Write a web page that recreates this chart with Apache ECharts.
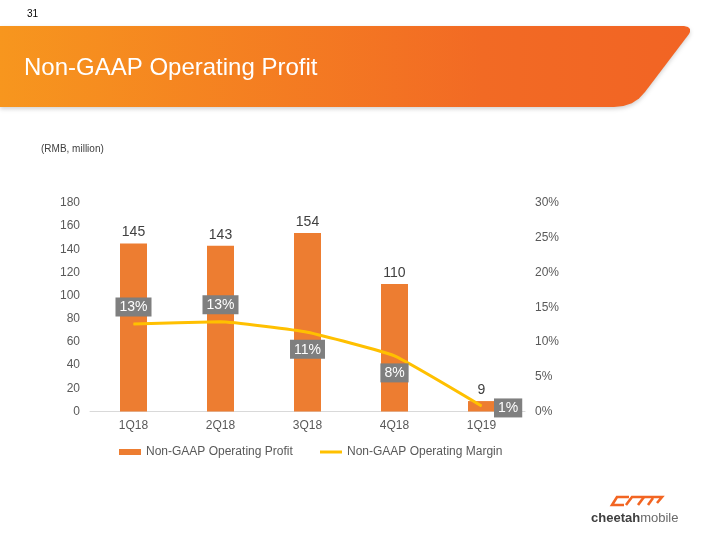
<!DOCTYPE html>
<html>
<head>
<meta charset="utf-8">
<script src="https://cdn.jsdelivr.net/npm/echarts@6/dist/echarts.min.js"></script>
<style>
html,body{margin:0;padding:0;background:#fff;}
#main{width:720px;height:540px;}
</style>
</head>
<body>
<div id="main"></div>
<script>
var categories = ['1Q18', '2Q18', '3Q18', '4Q18', '1Q19'];
var profitValues = [145, 143, 154, 110, 9];
var marginValues = [12.6, 12.9, 11.4, 8.0, 0.8];
var marginLabelPositions = ['top', 'top', 'bottom', 'bottom', 'right'];
var profitName = 'Non-GAAP Operating Profit';
var marginName = 'Non-GAAP Operating Margin';
var FONT = '"Liberation Sans", Arial, sans-serif';

var chart = echarts.init(document.getElementById('main'), null, {renderer: 'canvas'});

var marginData = marginValues.map(function (v, i) {
  var pos = marginLabelPositions[i];
  return {
    value: v,
    label: {
      position: pos,
      distance: pos === 'right' ? 12 : 7,
      offset: pos === 'right' ? [0, 2] : [0, 0]
    }
  };
});

var bandPoints = [
  [0, 26], [684, 26], [688, 27], [690, 29], [690, 32], [689, 34],
  [645, 92], [639, 98.6], [631.8, 103.3], [623.4, 106.1], [614, 107], [0, 107]
];

var option = {
  backgroundColor: '#ffffff',
  textStyle: {fontFamily: FONT},
  animation: false,
  graphic: [
    {
      type: 'polygon',
      shape: {points: bandPoints},
      style: {
        fill: {
          type: 'linear', x: 0, y: 0, x2: 1, y2: 0,
          colorStops: [
            {offset: 0, color: '#F7961E'},
            {offset: 0.7, color: '#F26A24'},
            {offset: 1, color: '#F26424'}
          ]
        },
        shadowColor: 'rgba(0,0,0,0.18)',
        shadowBlur: 4,
        shadowOffsetY: 2
      },
      z: 1
    },
    {
      type: 'text', left: 24, top: 56, z: 2,
      style: {text: 'Non-GAAP Operating Profit', fill: '#ffffff', font: '24px ' + FONT}
    },
    {
      type: 'text', left: 27, top: 9, z: 2,
      style: {text: '31', fill: '#000000', font: '10px ' + FONT}
    },
    {
      type: 'text', left: 41, top: 144, z: 2,
      style: {text: '(RMB, million)', fill: '#404040', font: '10px ' + FONT}
    },
    {
      type: 'polyline', z: 2,
      shape: {points: [[629, 497], [617, 497], [612, 505], [624, 505]]},
      style: {stroke: '#F26522', lineWidth: 2.6, fill: null}
    },
    {
      type: 'polyline', z: 2,
      shape: {points: [[626, 505], [632, 497], [662, 497], [657, 503]]},
      style: {stroke: '#F26522', lineWidth: 2.6, fill: null}
    },
    {
      type: 'polyline', z: 2,
      shape: {points: [[638, 505], [644, 497]]},
      style: {stroke: '#F26522', lineWidth: 2.6, fill: null}
    },
    {
      type: 'polyline', z: 2,
      shape: {points: [[648, 505], [653, 498]]},
      style: {stroke: '#F26522', lineWidth: 2.6, fill: null}
    },
    {
      type: 'text', left: 591, top: 512, z: 2,
      style: {
        text: '{a|cheetah}{b|mobile}',
        rich: {
          a: {fill: '#3f3f3f', font: 'bold 13px ' + FONT},
          b: {fill: '#6a6a6a', font: '13px ' + FONT}
        }
      }
    }
  ],
  grid: {left: 90, right: 195, top: 203, bottom: 128.5, containLabel: false},
  legend: [
    {
      data: [{name: profitName, icon: 'rect'}],
      left: 119, top: 446, padding: 0,
      itemWidth: 22, itemHeight: 6,
      textStyle: {fontSize: 12, color: '#595959', fontFamily: FONT}
    },
    {
      data: [{name: marginName, icon: 'rect'}],
      left: 320, top: 446, padding: 0,
      itemWidth: 22, itemHeight: 3,
      textStyle: {fontSize: 12, color: '#595959', fontFamily: FONT}
    }
  ],
  xAxis: {
    type: 'category',
    data: categories,
    axisLine: {lineStyle: {color: '#D9D9D9', width: 1}},
    axisTick: {show: false},
    axisLabel: {color: '#595959', fontSize: 12, margin: 8, fontFamily: FONT}
  },
  yAxis: [
    {
      type: 'value', min: 0, max: 180, interval: 20,
      axisLine: {show: false}, axisTick: {show: false},
      splitLine: {show: false},
      axisLabel: {color: '#595959', fontSize: 12, margin: 10, fontFamily: FONT}
    },
    {
      type: 'value', min: 0, max: 30, interval: 5, position: 'right',
      axisLine: {show: false}, axisTick: {show: false},
      splitLine: {show: false},
      axisLabel: {color: '#595959', fontSize: 12, margin: 10, fontFamily: FONT,
        formatter: function (v) { return v + '%'; }}
    }
  ],
  series: [
    {
      name: profitName,
      type: 'bar',
      data: profitValues,
      barWidth: 27,
      itemStyle: {color: '#ED7D31'},
      label: {
        show: true, position: 'top', distance: 4,
        color: '#404040', fontSize: 14, fontFamily: FONT
      },
      z: 2
    },
    {
      name: marginName,
      type: 'line',
      yAxisIndex: 1,
      data: marginData,
      smooth: 0.12,
      symbol: 'circle',
      symbolSize: 1,
      showSymbol: true,
      itemStyle: {color: '#FFC000'},
      lineStyle: {color: '#FFC000', width: 3},
      label: {
        show: true,
        color: '#ffffff',
        fontSize: 14,
        fontFamily: FONT,
        backgroundColor: '#7F7F7F',
        padding: [3, 4, 2, 4],
        formatter: function (p) { return Math.round(p.value) + '%'; }
      },
      z: 3
    }
  ]
};
chart.setOption(option);
</script>
</body>
</html>
